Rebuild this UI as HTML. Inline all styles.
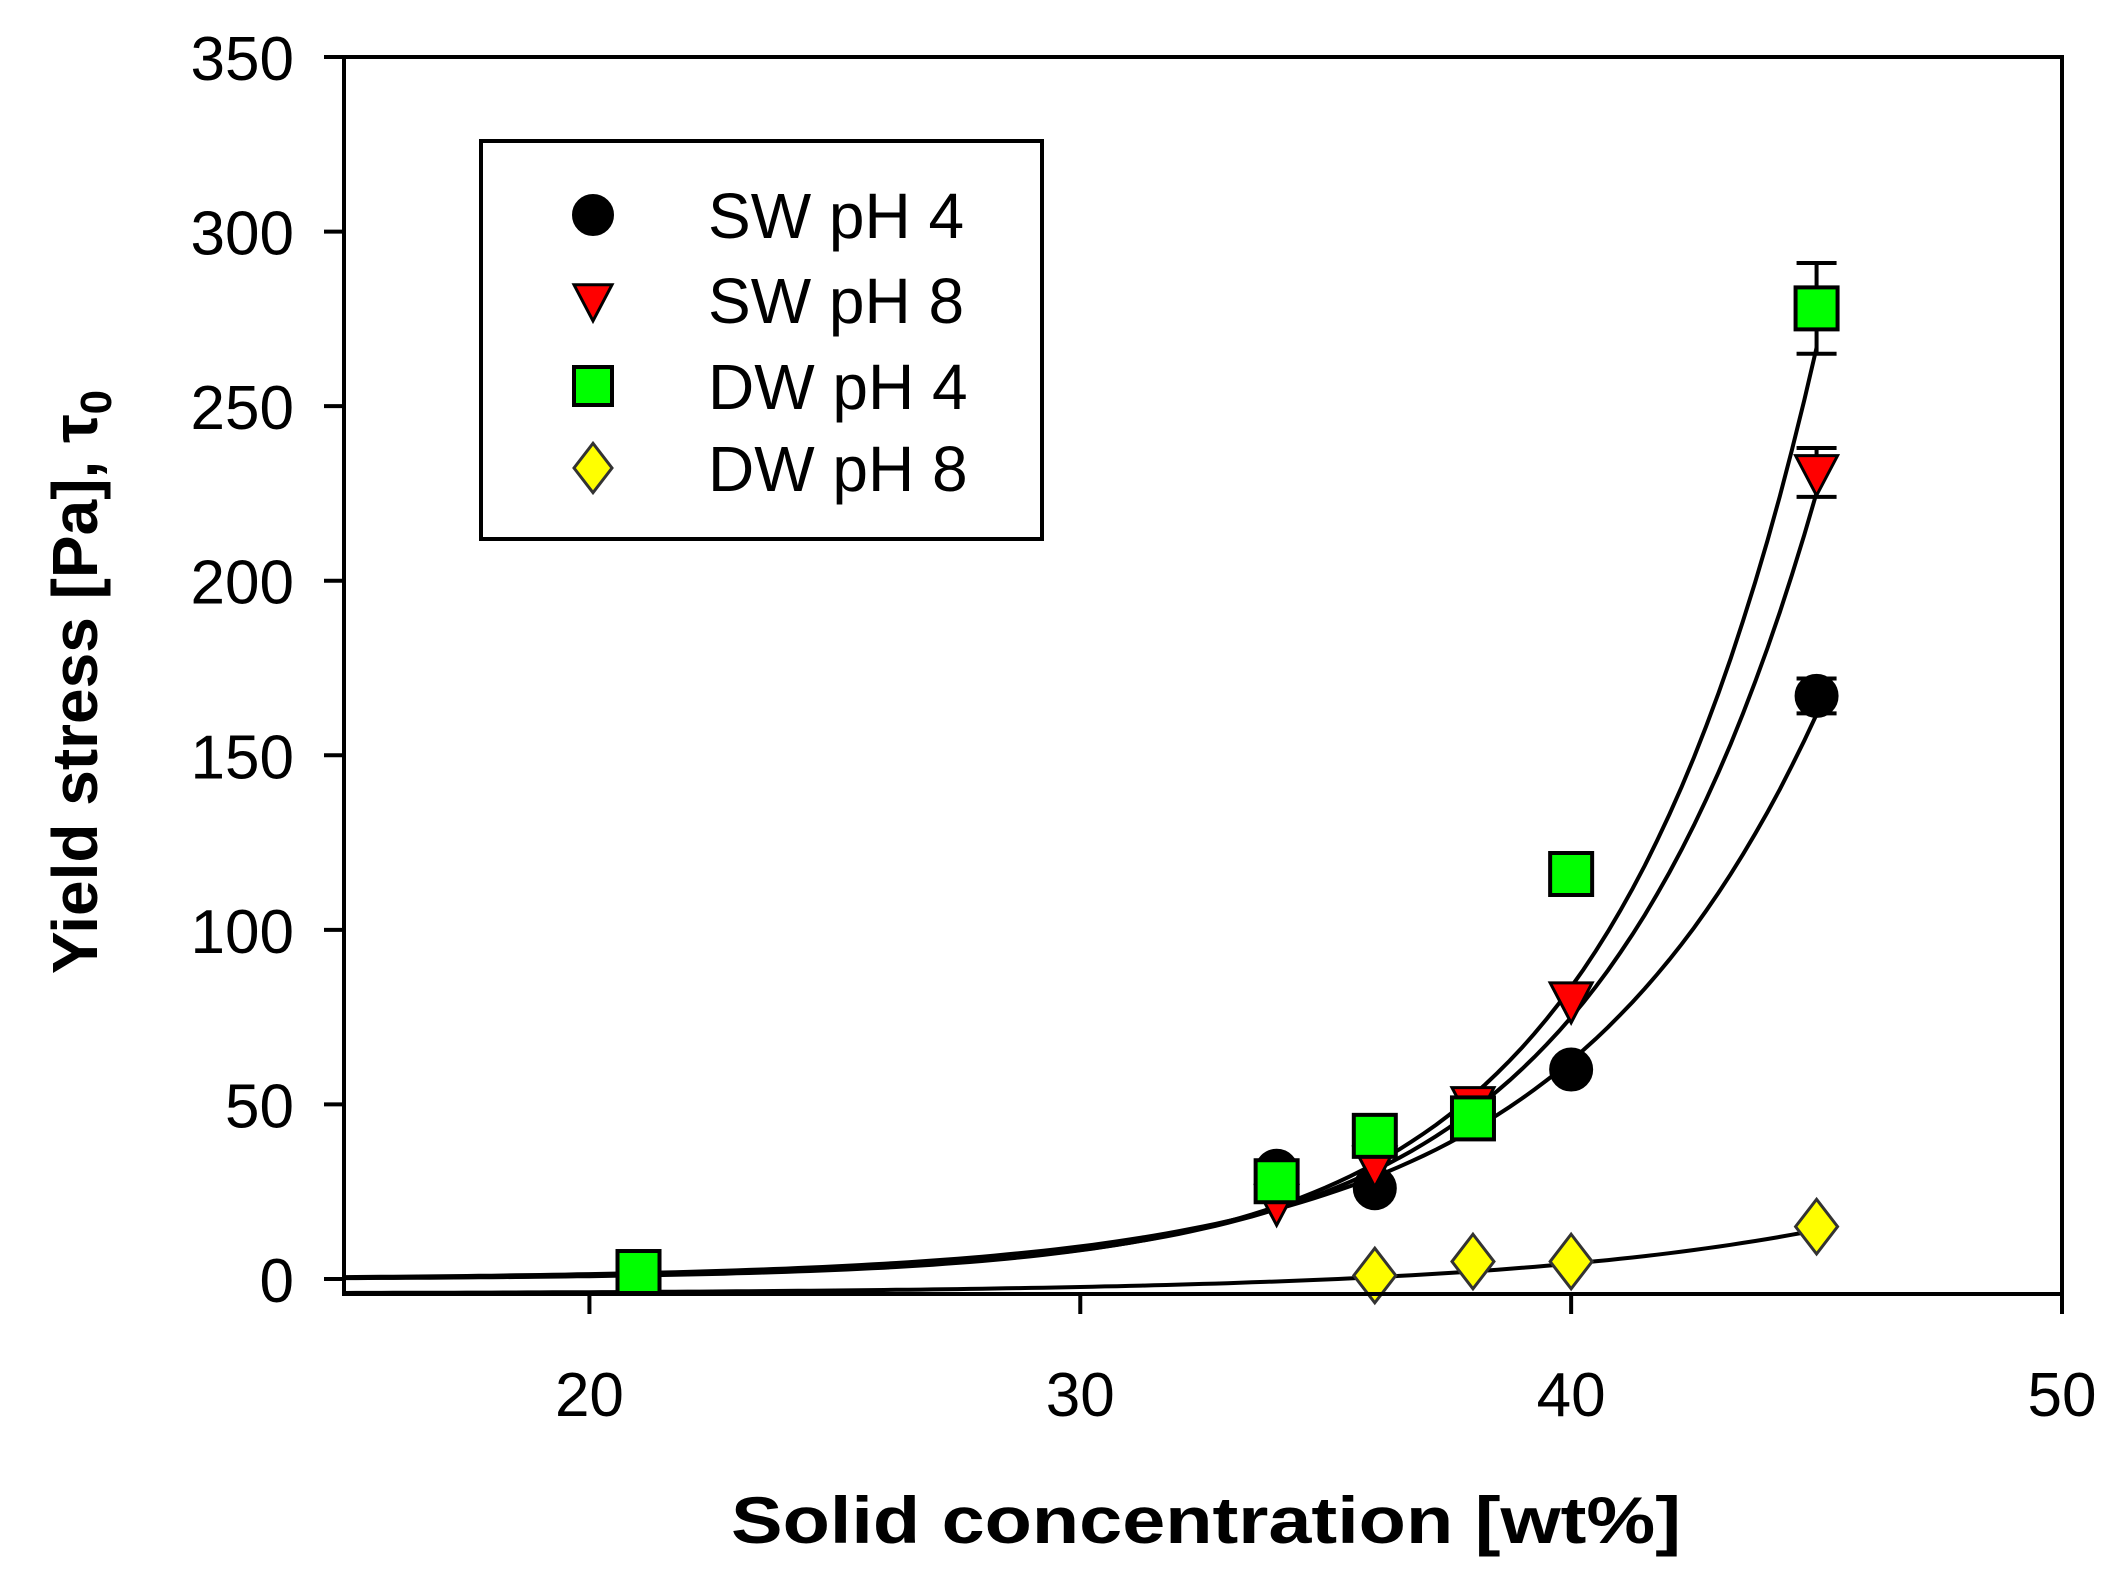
<!DOCTYPE html>
<html><head><meta charset="utf-8"><style>
html,body{margin:0;padding:0;background:#fff;}
svg{display:block;font-family:"Liberation Sans",sans-serif;}
</style></head><body>
<svg id="chart" width="2126" height="1579" viewBox="0 0 2126 1579">
<g id="fits"></g>
<g id="marks"></g>
<g id="axes"></g>
<text x="1206" y="1543" font-size="66" font-weight="bold" text-anchor="middle" textLength="950" lengthAdjust="spacingAndGlyphs">Solid concentration [wt%]</text>
<text transform="translate(97,682) rotate(-90)" font-size="64" font-weight="bold" text-anchor="middle">Yield stress [Pa], τ<tspan font-size="44" dy="14">0</tspan></text>
<g>
<rect x="481" y="141" width="561" height="398" fill="#fff" stroke="#000" stroke-width="4"/>
<g id="legend-items"></g>
</g>
</svg>
<script>
const xTicks=[20,30,40,50];
const yTicks=[0,50,100,150,200,250,300,350];
const swph4X=[34,36,40,45], swph4Y=[31,26,60,167];
const swph8X=[34,36,38,40,45], swph8Y=[22,33,50,80,231];
const dwph4X=[21,34,36,38,40,45], dwph4Y=[2,28,41,46,116,278];
const dwph8X=[36,38,40,45], dwph8Y=[1,5,5,15];
const errX=[45,45,45], errY=[278,231,167], errD=[13,7,5];
// fit parameters y = c + a*exp(b*x)
const fitA=[0.0078,0.0113,0.0313,0.0213];
const fitB=[0.232,0.22,0.19,0.15];
const fitC=[0,0,0,-4.2];
const seriesNames=["SW pH 4","SW pH 8","DW pH 4","DW pH 8"];

const X0=344,X1=2062,Y0=1279,Y350=57;
const xs=v=>X0+(v-15)*(X1-X0)/35;
const ys=v=>Y0-v*(Y0-Y350)/350;
const NS="http://www.w3.org/2000/svg";
function mk(tag,attrs,parent){const e=document.createElementNS(NS,tag);for(const k in attrs)e.setAttribute(k,attrs[k]);parent.appendChild(e);return e;}
const axes=document.getElementById('axes'),marks=document.getElementById('marks'),fits=document.getElementById('fits');
const YB=1294;
let fr=mk('rect',{x:X0,y:Y350,width:X1-X0,height:YB-Y350,fill:'none',stroke:'#000','stroke-width':4},axes);


xTicks.forEach(t=>{
  let l=mk('line',{x1:xs(t),x2:xs(t),y1:YB,y2:YB+20,stroke:'#000','stroke-width':4},axes);
  
  
  let tx=mk('text',{x:xs(t),y:1416,'font-size':62,'text-anchor':'middle'},axes);tx.textContent=t;
  
  
});
yTicks.forEach(t=>{
  let l=mk('line',{x1:X0-20,x2:X0,y1:ys(t),y2:ys(t),stroke:'#000','stroke-width':4},axes);
  
  
  let tx=mk('text',{x:294,y:ys(t)+23,'font-size':62,'text-anchor':'end'},axes);tx.textContent=t;
  
  
});
const fitRange=[[15,45],[15,45],[15,45],[15,45]];
for(let i=0;i<4;i++){
  let d='';
  for(let x=fitRange[i][0];x<=fitRange[i][1]+1e-9;x+=0.25){
    const y=fitC[i]+fitA[i]*Math.exp(fitB[i]*x);
    d+=(d?'L':'M')+xs(x).toFixed(1)+','+ys(y).toFixed(1);
  }
  let p=mk('path',{d:d,fill:'none',stroke:'#000','stroke-width':4},fits);
  
  
}
function marker(type,cx,cy,parent,r){
  r=r||21;let e;
  if(type===0)e=mk('circle',{cx:cx,cy:cy,r:r,fill:'#000',stroke:'#000','stroke-width':2},parent);
  else if(type===1)e=mk('polygon',{points:`${cx-r},${cy-r*0.8} ${cx+r},${cy-r*0.8} ${cx},${cy+r*1.1}`,fill:'#f00',stroke:'#000','stroke-width':3},parent);
  else if(type===2)e=mk('rect',{x:cx-r,y:cy-r,width:2*r,height:2*r,fill:'#0f0',stroke:'#000','stroke-width':4},parent);
  else e=mk('polygon',{points:`${cx},${cy-r*1.3} ${cx+r},${cy} ${cx},${cy+r*1.3} ${cx-r},${cy}`,fill:'#ff0',stroke:'#333','stroke-width':3},parent);
  return e;
}
for(let i=0;i<errX.length;i++){
  const x=xs(errX[i]),t=ys(errY[i]+errD[i]),b=ys(errY[i]-errD[i]);
  let g=mk('path',{d:`M${x},${t}V${b}M${x-20},${t}H${x+20}M${x-20},${b}H${x+20}`,stroke:'#000','stroke-width':4,fill:'none'},marks);
  
  
}
const sets=[[swph4X,swph4Y],[swph8X,swph8Y],[dwph4X,dwph4Y],[dwph8X,dwph8Y]];
sets.forEach((s,i)=>{
  s[0].forEach((xv,j)=>{
    const e=marker(i,xs(xv),ys(s[1][j]),marks);
    
    
  });
});
const lg=document.getElementById('legend-items');
const rowY=[215,300,386,468];
seriesNames.forEach((n,i)=>{
  const e=marker(i,593,rowY[i],lg,i===0?20:19);
  
  
  const t=mk('text',{x:708,y:rowY[i]+23,'font-size':64},lg);t.textContent=n;
  
  
});
</script>
</body></html>
